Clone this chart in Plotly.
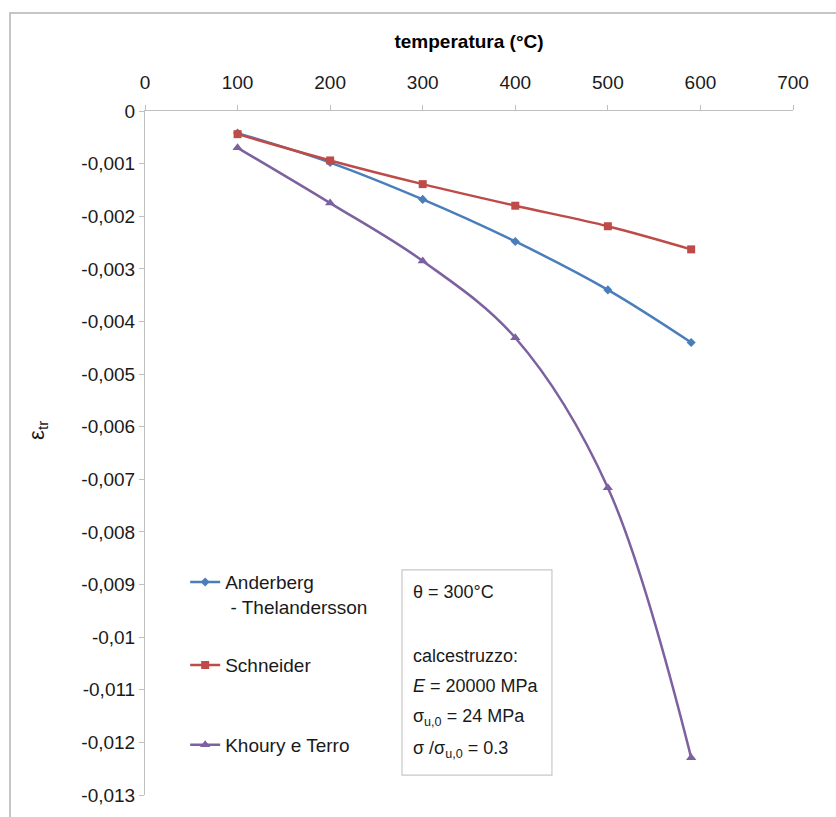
import plotly.graph_objects as go

# temperatures (°C) and transient strain for each model
temperature = [100, 200, 300, 400, 500, 590]
anderberg = [-0.00042, -0.00098, -0.00168, -0.00248, -0.00340, -0.00440]
schneider = [-0.00044, -0.00094, -0.00139, -0.00180, -0.00219, -0.00263]
khoury = [-0.00070, -0.00175, -0.00285, -0.00431, -0.00716, -0.01229]

y_ticks = [0, -0.001, -0.002, -0.003, -0.004, -0.005, -0.006, -0.007,
           -0.008, -0.009, -0.010, -0.011, -0.012, -0.013]
y_tick_text = ["0", "-0,001", "-0,002", "-0,003", "-0,004", "-0,005", "-0,006",
               "-0,007", "-0,008", "-0,009", "-0,01", "-0,011", "-0,012", "-0,013"]

FONT = "Liberation Sans, Arial, sans-serif"
AXIS_GREY = "#bfbfbf"
TEXT = "#1a1a1a"
FS = 19

fig = go.Figure()
series = [
    ("Anderberg<br> - Thelandersson", anderberg, "#4a7ebb", "diamond", 7, "legend"),
    ("Schneider", schneider, "#be4b48", "square", 8, "legend2"),
    ("Khoury e Terro", khoury, "#7d60a0", "triangle-up", 9, "legend3"),
]
for name, vals, color, symbol, msize, leg in series:
    fig.add_trace(go.Scatter(
        x=temperature, y=vals, name=name, mode="lines+markers",
        line=dict(color=color, width=2.5, shape="spline", smoothing=1),
        marker=dict(symbol=symbol, size=msize, color=color),
        legend=leg, showlegend=True,
    ))

legend_style = dict(font=dict(family=FONT, size=FS, color=TEXT),
                    bgcolor="rgba(0,0,0,0)", borderwidth=0,
                    xanchor="left", valign="top", itemwidth=30)

fig.update_layout(
    width=836, height=817,
    margin=dict(l=145, r=43, t=111, b=22),
    paper_bgcolor="white", plot_bgcolor="white",
    font=dict(family=FONT, size=FS, color=TEXT),
    showlegend=True,
    legend=dict(x=0.062, y=0.339, yanchor="top", **legend_style),
    legend2=dict(x=0.062, y=0.190, yanchor="middle", **legend_style),
    legend3=dict(x=0.062, y=0.0731, yanchor="middle", **legend_style),
    xaxis=dict(
        side="top", range=[0, 700], dtick=100, tick0=0,
        showline=True, linecolor=AXIS_GREY, linewidth=1,
        ticks="outside", ticklen=5, tickcolor=AXIS_GREY,
        ticklabelstandoff=8,
        showgrid=False, zeroline=False,
        tickfont=dict(family=FONT, size=FS, color=TEXT),
        title=dict(text="<b>temperatura (°C)</b>",
                   font=dict(family=FONT, size=19, color="#000000"), standoff=18),
    ),
    yaxis=dict(
        range=[-0.013, 0], tickvals=y_ticks, ticktext=y_tick_text,
        showline=True, linecolor=AXIS_GREY, linewidth=1,
        ticks="outside", ticklen=5, tickcolor=AXIS_GREY,
        showgrid=False, zeroline=False,
        tickfont=dict(family=FONT, size=FS, color=TEXT),
    ),
)

# y-axis label
fig.add_annotation(text="ε<sub>tr</sub>", xref="paper", yref="paper",
                   x=-0.19, y=0.5336, textangle=-90, showarrow=False,
                   font=dict(family=FONT, size=22, color=TEXT))

# outer chart border
fig.add_shape(type="rect", xref="paper", yref="paper",
              x0=-0.2083, x1=1.08, y0=-0.05, y1=1.1433,
              line=dict(color="#b3b3b3", width=1.5), layer="below")

# parameter box
fig.add_shape(type="rect", xref="paper", yref="paper",
              x0=0.3966, x1=0.628, y0=0.029, y1=0.329,
              line=dict(color="#c8c8c8", width=1.2), fillcolor="white")
box_lines = [
    ("θ = 300°C", 0.2968),
    ("calcestruzzo:", 0.2032),
    ("<i>E</i> = 20000 MPa", 0.1594),
    ("σ<sub>u,0</sub> = 24 MPa", 0.1126),
    ("σ /σ<sub>u,0</sub> = 0.3", 0.0658),
]
for txt, yy in box_lines:
    fig.add_annotation(text=txt, xref="paper", yref="paper", x=0.410, y=yy,
                       xanchor="left", yanchor="middle", showarrow=False,
                       font=dict(family=FONT, size=18, color=TEXT))

fig.write_html("out.html")
